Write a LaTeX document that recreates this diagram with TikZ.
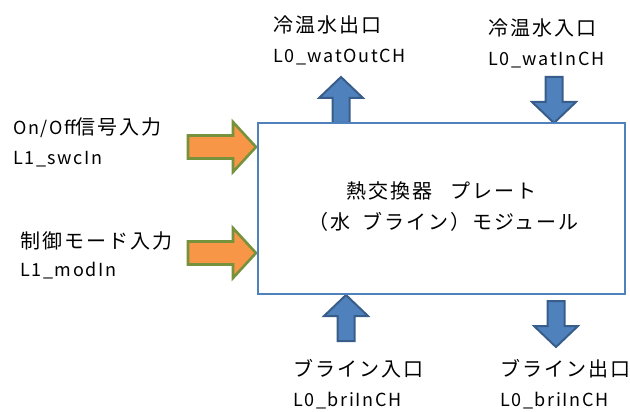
\documentclass[tikz,border=0pt]{standalone}
\usepackage{fontspec}
\setmainfont{Noto Sans CJK JP}
\newfontfamily\jp[LetterSpace=10]{Noto Sans CJK JP}
\newfontfamily\lt[LetterSpace=9]{Noto Sans CJK JP}
\newcommand{\J}[1]{{\jp\fontsize{20}{22}\selectfont #1}}
\newcommand{\La}[1]{{\lt\fontsize{18}{22}\selectfont #1}}
\definecolor{boxblue}{HTML}{4F81BD}
\definecolor{arrblue}{HTML}{4F81BD}
\definecolor{arrblueline}{HTML}{385D8A}
\definecolor{arrorange}{HTML}{F79646}
\definecolor{arrgreen}{HTML}{76923C}
\tikzset{
  lbl/.style={inner sep=0pt, anchor=west},
  bluearr/.pic={\draw[fill=arrblue, draw=arrblueline, line width=2pt, line join=miter]
     (0,0) -- (-21,22) -- (-21,8.5) -- (-46,8.5) -- (-46,-8.5) -- (-21,-8.5) -- (-21,-22) -- cycle;},
  orangearr/.pic={\draw[fill=arrorange, draw=arrgreen, line width=2.6pt, line join=miter]
     (0,0) -- (-23,25) -- (-23,11.5) -- (-68,11.5) -- (-68,-11.5) -- (-23,-11.5) -- (-23,-25) -- cycle;}
}
\begin{document}
\begin{tikzpicture}[x=1pt,y=-1pt]
\useasboundingbox (0,0) rectangle (630,412);
% arrows
\pic[rotate=90] at (341,77) {bluearr};
\pic[rotate=-90] at (554,123) {bluearr};
\pic[rotate=90] at (346,295) {bluearr};
\pic[rotate=-90] at (556,347) {bluearr};
\pic at (256,147) {orangearr};
\pic at (256,253) {orangearr};
% box
\node[draw=boxblue, line width=2.6pt, minimum width=367pt, minimum height=171pt, inner sep=0pt] (box) at (441.5,208.5) {};
\node[lbl, anchor=center] (t1) at (441.5,191) {\J{熱交換器\hspace{18pt}プレート}};
\node[lbl, anchor=center] (t2) at (443.5,222) {\J{（水\hspace{12pt}ブライン）モジュール}};
% labels
\node[lbl] (a1) at (273,25) {\J{冷温水出口}};
\node[lbl] (a2) at (273,57) {\La{L0\_watOutCH}};
\node[lbl] (b1) at (488,28) {\J{冷温水入口}};
\node[lbl] (b2) at (488,60) {\La{L0\_watInCH}};
\node[lbl] (c1) at (13,128) {\La{On/Off}\J{信号入力}};
\node[lbl] (c2) at (13,159) {\La{L1\_swcIn}};
\node[lbl] (d1) at (20,241) {\J{制御モード入力}};
\node[lbl] (d2) at (20,271) {\La{L1\_modIn}};
\node[lbl] (e1) at (293,369) {\J{ブライン入口}};
\node[lbl] (e2) at (293,401) {\La{L0\_briInCH}};
\node[lbl] (f1) at (500,369) {\J{ブライン出口}};
\node[lbl] (f2) at (500,401) {\La{L0\_briInCH}};
\end{tikzpicture}
\end{document}
